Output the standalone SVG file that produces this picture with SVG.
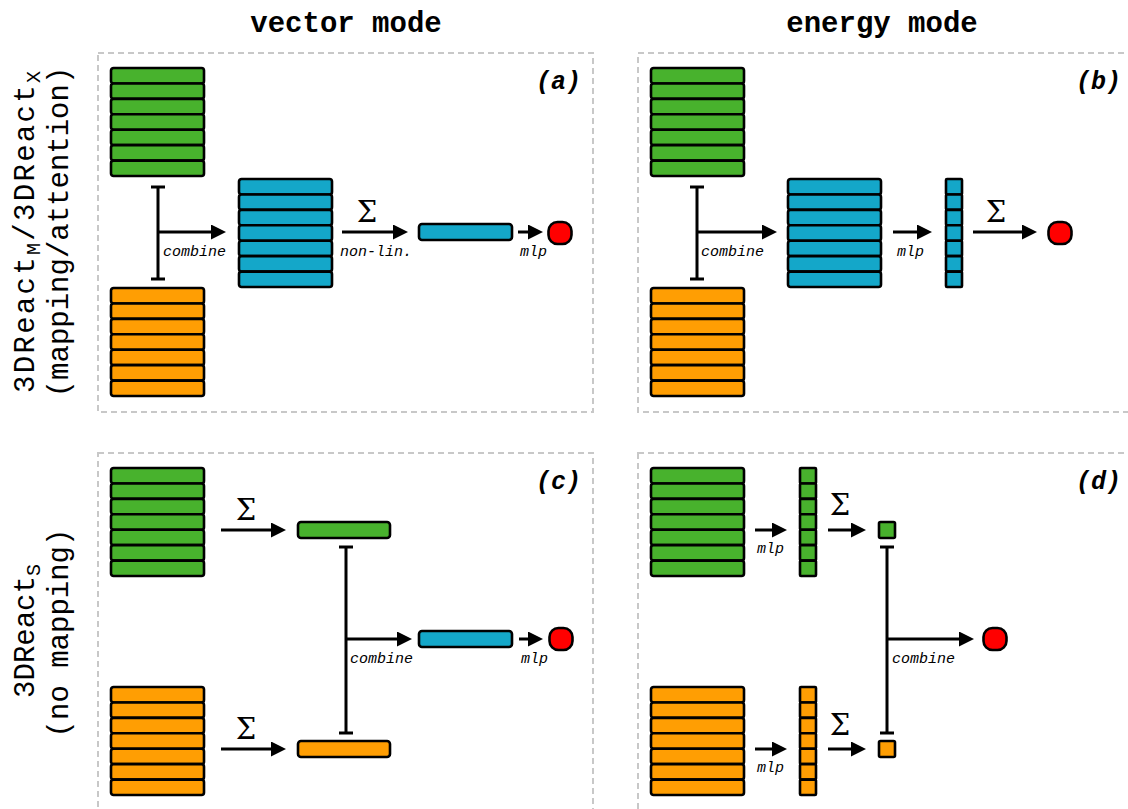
<svg xmlns="http://www.w3.org/2000/svg" xmlns:xlink="http://www.w3.org/1999/xlink" width="1128" height="809" viewBox="0 0 1128 809">
  <style>
    .panel { fill: none; stroke: #c8c8c8; stroke-width: 2; stroke-dasharray: 6 4; }
    .cell { stroke: #000; stroke-width: 2.6; }
    .box { stroke: #000; stroke-width: 2.6; }
    .green { fill: #48b22d; }
    .orange { fill: #ff9e03; }
    .blue { fill: #14a7c9; }
    .red { fill: #ff0000; stroke: #000; stroke-width: 2.6; }
    .arrow { fill: none; stroke: #000; stroke-width: 3; marker-end: url(#head); }
    .bracket { fill: none; stroke: #000; stroke-width: 3; }
    .title { font-family: "Liberation Mono", "Courier New", monospace; font-weight: bold; font-size: 29px; text-anchor: middle; }
    .row { font-family: "Liberation Mono", "Courier New", monospace; font-size: 29px; text-anchor: middle; }
    .sub { font-size: 20px; }
    .tag { font-family: "Liberation Mono", "Courier New", monospace; font-weight: bold; font-style: italic; font-size: 25px; text-anchor: end; }
    .op { font-family: "Liberation Mono", "Courier New", monospace; font-style: italic; font-size: 15px; }
    .sigma { font-family: "DejaVu Serif", "Liberation Serif", serif; font-size: 29px; text-anchor: middle; }
  </style>
  <defs>
    <marker id="head" viewBox="0 0 15 15" markerWidth="15" markerHeight="15" markerUnits="userSpaceOnUse" refX="5" refY="7.5" orient="auto">
      <path d="M0,0 L15,7.5 L0,15 z" fill="#000"/>
    </marker>
    <!-- seven wide rows; fill comes from the <use> -->
    <g id="stack">
      <rect class="cell" x="0" y="0" width="93" height="15.43" rx="2.5"/>
      <rect class="cell" x="0" y="15.43" width="93" height="15.43" rx="2.5"/>
      <rect class="cell" x="0" y="30.86" width="93" height="15.43" rx="2.5"/>
      <rect class="cell" x="0" y="46.29" width="93" height="15.43" rx="2.5"/>
      <rect class="cell" x="0" y="61.72" width="93" height="15.43" rx="2.5"/>
      <rect class="cell" x="0" y="77.15" width="93" height="15.43" rx="2.5"/>
      <rect class="cell" x="0" y="92.58" width="93" height="15.43" rx="2.5"/>
    </g>
    <!-- seven narrow cells -->
    <g id="column">
      <rect class="cell" x="0" y="0" width="16" height="15.43" rx="1"/>
      <rect class="cell" x="0" y="15.43" width="16" height="15.43" rx="1"/>
      <rect class="cell" x="0" y="30.86" width="16" height="15.43" rx="1"/>
      <rect class="cell" x="0" y="46.29" width="16" height="15.43" rx="1"/>
      <rect class="cell" x="0" y="61.72" width="16" height="15.43" rx="1"/>
      <rect class="cell" x="0" y="77.15" width="16" height="15.43" rx="1"/>
      <rect class="cell" x="0" y="92.58" width="16" height="15.43" rx="1"/>
    </g>
  </defs>

  <rect width="1128" height="809" fill="#fff"/>

  <!-- column and row headings -->
  <g id="headings">
    <text class="title" x="346" y="32">vector mode</text>
    <text class="title" x="882" y="32">energy mode</text>
    <text class="row" transform="translate(34,232) rotate(-90)" textLength="322" lengthAdjust="spacing">3DReact<tspan class="sub" dy="6">M</tspan><tspan dy="-6">/3DReact</tspan><tspan class="sub" dy="6">X</tspan></text>
    <text class="row" transform="translate(68,232) rotate(-90)">(mapping/attention)</text>
    <text class="row" transform="translate(34,631) rotate(-90)">3DReact<tspan class="sub" dy="6">S</tspan></text>
    <text class="row" transform="translate(68,633) rotate(-90)">(no mapping)</text>
  </g>

  <!-- dashed panel frames -->
  <g id="frames">
    <rect class="panel" x="98" y="53" width="495" height="359"/>
    <rect class="panel" x="638" y="53" width="496" height="359"/>
    <rect class="panel" x="98" y="453" width="495" height="362"/>
    <rect class="panel" x="638" y="453" width="496" height="362"/>
    <text class="tag" x="581" y="89">(a)</text>
    <text class="tag" x="1121" y="89">(b)</text>
    <text class="tag" x="581" y="489">(c)</text>
    <text class="tag" x="1121" y="489">(d)</text>
  </g>

  <!-- panel (a): vector mode with mapping -->
  <g id="a-ligand"><use xlink:href="#stack" x="111" y="68" class="green"/></g>
  <g id="a-protein"><use xlink:href="#stack" x="111" y="288" class="orange"/></g>
  <g id="a-pairs"><use xlink:href="#stack" x="239" y="179" class="blue"/></g>
  <g id="a-vector"><rect class="box blue" x="419" y="224" width="93" height="16" rx="3"/></g>
  <g id="a-out"><rect class="red" x="548.5" y="222" width="23" height="22" rx="9"/></g>

  <!-- panel (b): energy mode with mapping -->
  <g id="b-ligand"><use xlink:href="#stack" x="651" y="68" class="green"/></g>
  <g id="b-protein"><use xlink:href="#stack" x="651" y="288" class="orange"/></g>
  <g id="b-pairs"><use xlink:href="#stack" x="788" y="179" class="blue"/></g>
  <g id="b-energies"><use xlink:href="#column" x="946" y="179" class="blue"/></g>
  <g id="b-out"><rect class="red" x="1048.5" y="222" width="23" height="22" rx="9"/></g>

  <!-- panel (c): vector mode without mapping -->
  <g id="c-ligand"><use xlink:href="#stack" x="111" y="468" class="green"/></g>
  <g id="c-protein"><use xlink:href="#stack" x="111" y="687" class="orange"/></g>
  <g id="c-ligand-sum"><rect class="box green" x="298" y="522" width="92" height="16" rx="3"/></g>
  <g id="c-protein-sum"><rect class="box orange" x="298" y="741" width="92" height="16" rx="3"/></g>
  <g id="c-vector"><rect class="box blue" x="419" y="631" width="93" height="16" rx="3"/></g>
  <g id="c-out"><rect class="red" x="549.5" y="628" width="23" height="22" rx="9"/></g>

  <!-- panel (d): energy mode without mapping -->
  <g id="d-ligand"><use xlink:href="#stack" x="651" y="468" class="green"/></g>
  <g id="d-protein"><use xlink:href="#stack" x="651" y="687" class="orange"/></g>
  <g id="d-ligand-energies"><use xlink:href="#column" x="800" y="468" class="green"/></g>
  <g id="d-protein-energies"><use xlink:href="#column" x="800" y="687" class="orange"/></g>
  <g id="d-ligand-sum"><rect class="box green" x="879" y="522" width="16" height="16" rx="1.5"/></g>
  <g id="d-protein-sum"><rect class="box orange" x="879" y="741" width="16" height="16" rx="1.5"/></g>
  <g id="d-out"><rect class="red" x="983.5" y="628" width="23" height="22" rx="9"/></g>

  <!-- connectors -->
  <g id="connectors">
    <!-- (a) -->
    <path class="bracket" d="M158,187 V279 M151,187 H165 M151,279 H165"/>
    <path class="arrow" d="M158,232 H216"/>
    <path class="arrow" d="M342,232 H398"/>
    <path class="arrow" d="M518,232 H533"/>
    <text class="op" x="163" y="256">combine</text>
    <text class="sigma" x="367" y="222">Σ</text>
    <text class="op" x="340" y="256">non-lin.</text>
    <text class="op" x="520" y="256">mlp</text>

    <!-- (b) -->
    <path class="bracket" d="M697,187 V279 M690,187 H704 M690,279 H704"/>
    <path class="arrow" d="M697,232 H767"/>
    <path class="arrow" d="M893,232 H922"/>
    <path class="arrow" d="M973,232 H1027"/>
    <text class="op" x="701" y="256">combine</text>
    <text class="op" x="897" y="256">mlp</text>
    <text class="sigma" x="996" y="222">Σ</text>

    <!-- (c) -->
    <path class="arrow" d="M221,530 H276"/>
    <path class="arrow" d="M221,749 H276"/>
    <text class="sigma" x="246" y="520">Σ</text>
    <text class="sigma" x="246" y="739">Σ</text>
    <path class="bracket" d="M346,547 V733 M339,547 H353 M339,733 H353"/>
    <path class="arrow" d="M346,639 H402"/>
    <path class="arrow" d="M519,639 H533"/>
    <text class="op" x="350" y="663">combine</text>
    <text class="op" x="521" y="663">mlp</text>

    <!-- (d) -->
    <path class="arrow" d="M755,530 H777"/>
    <path class="arrow" d="M755,749 H777"/>
    <text class="op" x="757" y="553">mlp</text>
    <text class="op" x="757" y="772">mlp</text>
    <path class="arrow" d="M828,530 H856"/>
    <path class="arrow" d="M828,749 H856"/>
    <text class="sigma" x="840" y="515">Σ</text>
    <text class="sigma" x="840" y="735">Σ</text>
    <path class="bracket" d="M887,547 V733 M880,547 H894 M880,733 H894"/>
    <path class="arrow" d="M887,639 H964"/>
    <text class="op" x="892" y="663">combine</text>
  </g>
</svg>
